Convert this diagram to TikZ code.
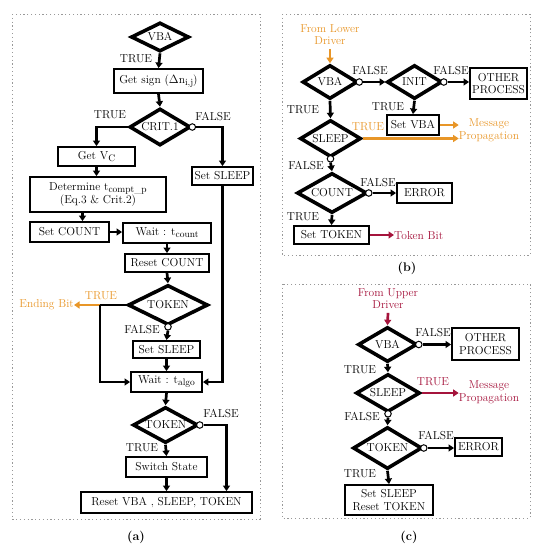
\documentclass[tikz,border=0pt]{standalone}
\usetikzlibrary{arrows.meta,shapes.geometric,calc}
\definecolor{orng}{RGB}{232,150,40}
\definecolor{dred}{RGB}{165,20,60}
\newcommand\lowsub[1]{\raisebox{-0.4ex}{\fontsize{9.5}{10}\selectfont #1}}
\begin{document}
\begin{tikzpicture}[x=1pt,y=-1pt,
  font=\fontsize{11.5}{12.5}\selectfont,
  box/.style={draw, line width=1.9pt, inner sep=0pt, fill=white, align=center},
  dia/.style={diamond, draw, line width=3.6pt, inner sep=0pt, aspect=2, fill=white},
  conn/.style={line width=2.7pt},
  arr/.style={conn, -{Triangle[length=5.5pt,width=7pt]}},
  circ/.style={circle, draw, fill=white, line width=1pt, minimum size=6.5pt, inner sep=0pt},
  lbl/.style={inner sep=0pt},
  frame/.style={draw=gray!80, line width=1pt, dash pattern=on 1.2pt off 2.6pt},
  pcap/.style={font=\bfseries\fontsize{12.5}{13}\selectfont, inner sep=0pt}]
\useasboundingbox (0,0) rectangle (541,550);

% ---------------- frames ----------------
\draw[frame] (12,14) rectangle (260,519);
\draw[frame] (282,14) rectangle (530,255);
\draw[frame] (282,284) rectangle (530,518);
\node[pcap] (capA) at (136,537) {(a)};
\node[pcap] (capB) at (407,268) {(b)};
\node[pcap] (capC) at (409,537) {(c)};

% ---------------- panel (a) ----------------
\node[dia, minimum width=58pt, minimum height=29pt] (vbaA) at (160,37) {\makebox[0pt]{VBA}};
\node[box, minimum width=89pt, minimum height=24pt] (getsign) at (158.5,81) {Get sign ($\Delta$n\lowsub{i,j})};
\node[dia, minimum width=61pt, minimum height=37pt] (crit) at (160,127) {\makebox[0pt]{CRIT.1}};
\node[box, minimum width=77pt, minimum height=19pt] (getvc) at (96.5,156.5) {Get V\lowsub{C}};
\node[box, minimum width=61pt, minimum height=18pt] (setsleepR) at (222.5,176) {Set SLEEP};
\node[box, minimum width=136pt, minimum height=35pt] (determine) at (98,194.5) {Determine t\lowsub{compt\_p}\\(Eq.3 \& Crit.2)};
\node[box, minimum width=79pt, minimum height=20pt] (setcount) at (69.5,232) {Set COUNT};
\node[box, minimum width=88pt, minimum height=20pt] (waitcount) at (167,233) {Wait : t\lowsub{count}};
\node[box, minimum width=84pt, minimum height=18pt] (resetcount) at (167,263) {Reset COUNT};
\node[dia, minimum width=80pt, minimum height=40pt] (tokA) at (168,305) {\makebox[0pt]{TOKEN}};
\node[box, minimum width=67pt, minimum height=17pt] (setsleepA) at (166.5,349.5) {Set SLEEP};
\node[box, minimum width=71pt, minimum height=20pt] (waitalgo) at (166.5,382) {Wait : t\lowsub{algo}};
\node[dia, minimum width=65pt, minimum height=36pt] (tok2) at (165.5,425) {\makebox[0pt]{TOKEN}};
\node[box, minimum width=81pt, minimum height=20pt] (switch) at (166.5,467) {Switch State};
\node[box, minimum width=171pt, minimum height=21pt] (reset) at (166.5,502.5) {Reset VBA , SLEEP, TOKEN};
\node[lbl, anchor=east, text=orng] (ending) at (74,305) {Ending Bit};

\draw[arr] (vbaA.south) -- (getsign.north);
\draw[arr] (getsign.south) -- (crit.north);
\draw[arr] (crit.west) -| (getvc.north);
\node[circ] (cCrit) at (crit.east) {};
\draw[arr] (cCrit.east) -| (setsleepR.north);
\draw[arr] (getvc.south) -- (getvc.south |- determine.north);
\draw[arr] ([xshift=13pt]setcount.north |- determine.south) -- ([xshift=13pt]setcount.north);
\draw[arr] (setcount.east) -- (setcount.east -| waitcount.west);
\draw[arr] (waitcount.south) -- (resetcount.north);
\draw[arr] (resetcount.south) -- (tokA.north);
\coordinate (jA) at (100,305);
\draw[conn] (tokA.west) -- (jA);
\draw[arr, orng] (jA) -- (ending.east);
\draw[arr] (jA) |- (waitalgo.west);
\node[circ] (cTokA) at (tokA.south) {};
\draw[arr] (cTokA.south) -- (setsleepA.north);
\draw[arr] (setsleepA.south) -- (waitalgo.north);
\draw[arr] (setsleepR.south) |- (waitalgo.east);
\draw[arr] (waitalgo.south) -- (tok2.north);
\node[circ] (cTok2) at (tok2.east) {};
\draw[arr] (cTok2.east) -| ([xshift=60pt]reset.north);
\draw[arr] (tok2.south) -- (switch.north);
\draw[arr] (switch.south) -- (reset.north);

\node[lbl] (tA1) at (136,59) {TRUE};
\node[lbl] (tA2) at (110,115) {TRUE};
\node[lbl] (fA1) at (213,117) {FALSE};
\node[lbl, text=orng] (tA3) at (101,296) {TRUE};
\node[lbl] (fA2) at (142,330) {FALSE};
\node[lbl] (fA3) at (221,414) {FALSE};
\node[lbl] (tA4) at (142,448) {TRUE};

% ---------------- panel (b) ----------------
\node[lbl, text=orng, align=center] (fromLow) at (330,34.5) {From Lower\\Driver};
\node[dia, minimum width=55pt, minimum height=34pt] (vbaB) at (330,82) {\makebox[0pt]{VBA}};
\node[dia, minimum width=55pt, minimum height=34pt] (initB) at (414.5,82) {\makebox[0pt]{INIT}};
\node[box, minimum width=57pt, minimum height=31pt] (otherB) at (498.5,83.5) {OTHER\\PROCESS};
\node[box, minimum width=52pt, minimum height=20pt] (setvba) at (413,125) {Set VBA};
\node[dia, minimum width=61pt, minimum height=37pt] (sleepB) at (330.5,138.5) {\makebox[0pt]{SLEEP}};
\node[dia, minimum width=70pt, minimum height=40pt] (countB) at (332,193) {\makebox[0pt]{COUNT}};
\node[box, minimum width=55pt, minimum height=20pt] (errorB) at (424.5,193) {ERROR};
\node[box, minimum width=75pt, minimum height=18pt] (settoken) at (331.5,235) {Set TOKEN};
\node[lbl, text=orng, align=center] (msgB) at (489,130) {Message\\Propagation};
\node[lbl, text=dred, anchor=west] (tokenbit) at (394,236) {Token Bit};

\draw[arr, orng] (fromLow.south) ++(0,4) -- (vbaB.north);
\node[circ] (cVbaB) at (vbaB.east) {};
\draw[arr] (cVbaB.east) -- (initB.west);
\node[circ] (cInitB) at (initB.east) {};
\draw[arr] (cInitB.east) -- (cInitB.east -| otherB.west);
\draw[arr] (initB.south) -- (setvba.north);
\draw[arr, orng] (setvba.east) -- (setvba.east -| msgB.west);
\draw[arr] (vbaB.south) -- (sleepB.north);
\draw[arr, orng] (sleepB.east) -- (sleepB.east -| msgB.west);
\node[circ] (cSleepB) at (sleepB.south) {};
\draw[arr] (cSleepB.south) -- (countB.north);
\node[circ] (cCountB) at (countB.east) {};
\draw[arr] (cCountB.east) -- (errorB.west);
\draw[arr] (countB.south) -- (settoken.north);
\draw[arr, dred] (settoken.east) -- (settoken.east -| tokenbit.west);

\node[lbl] (fB1) at (370,71) {FALSE};
\node[lbl] (fB2) at (451,71) {FALSE};
\node[lbl] (tB1) at (388,107) {TRUE};
\node[lbl] (tB2) at (303,110) {TRUE};
\node[lbl, text=orng] (tB3) at (368,127) {TRUE};
\node[lbl] (fB3) at (306,166) {FALSE};
\node[lbl] (fB4) at (378,183) {FALSE};
\node[lbl] (tB4) at (303,217) {TRUE};

% ---------------- panel (c) ----------------
\node[lbl, text=dred, align=center] (fromUp) at (388,298.5) {From Upper\\Driver};
\node[dia, minimum width=59pt, minimum height=35pt] (vbaC) at (387.5,344.5) {\makebox[0pt]{VBA}};
\node[box, minimum width=67pt, minimum height=32pt] (otherC) at (485.5,344) {OTHER\\PROCESS};
\node[dia, minimum width=64pt, minimum height=38pt] (sleepC) at (388,393) {\makebox[0pt]{SLEEP}};
\node[lbl, text=dred, align=center] (msgC) at (489,392) {Message\\Propagation};
\node[dia, minimum width=69pt, minimum height=42pt] (tokC) at (387.5,448) {\makebox[0pt]{TOKEN}};
\node[box, minimum width=47pt, minimum height=18pt] (errorC) at (478.5,447) {ERROR};
\node[box, minimum width=88pt, minimum height=30pt] (finalC) at (389,500) {Set SLEEP\\Reset TOKEN};

\draw[arr, dred] (fromUp.south) ++(0,4) -- (vbaC.north);
\node[circ] (cVbaC) at (vbaC.east) {};
\draw[arr] (cVbaC.east) -- (cVbaC.east -| otherC.west);
\draw[arr] (vbaC.south) -- (sleepC.north);
\draw[arr, dred] (sleepC.east) -- (sleepC.east -| msgC.west);
\node[circ] (cSleepC) at (sleepC.south) {};
\draw[arr] (cSleepC.south) -- (tokC.north);
\node[circ] (cTokC) at (tokC.east) {};
\draw[arr] (cTokC.east) -- (cTokC.east -| errorC.west);
\draw[arr] (tokC.south) -- (finalC.north);

\node[lbl] (fC1) at (433,333) {FALSE};
\node[lbl] (tC1) at (360,370) {TRUE};
\node[lbl, text=dred] (tC2) at (433,382) {TRUE};
\node[lbl] (fC2) at (362,417) {FALSE};
\node[lbl] (fC3) at (436,436) {FALSE};
\node[lbl] (tC3) at (360,474) {TRUE};
\end{tikzpicture}
\end{document}
